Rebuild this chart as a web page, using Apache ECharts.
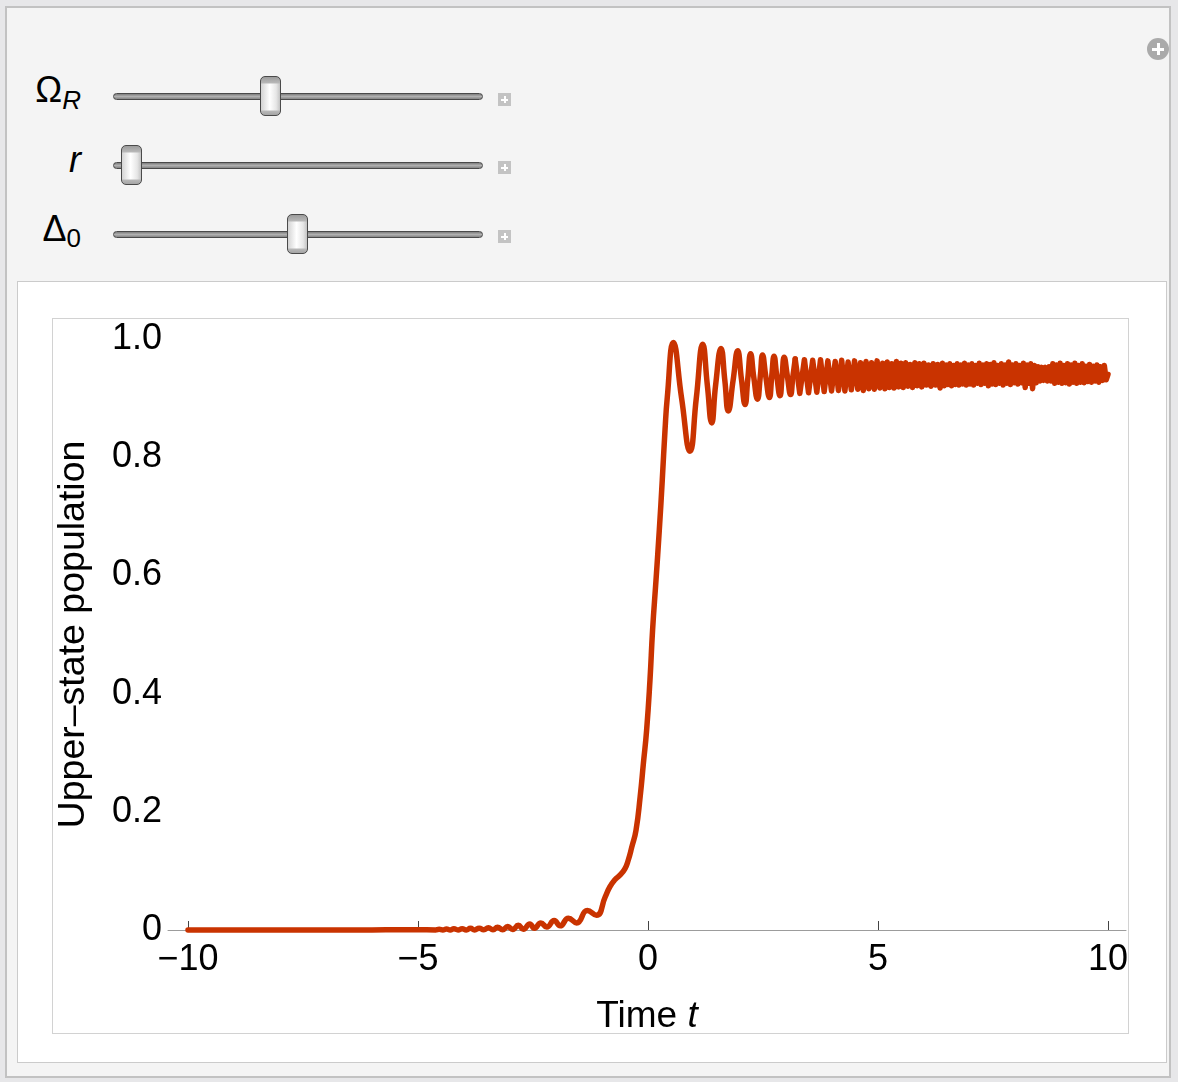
<!DOCTYPE html>
<html>
<head>
<meta charset="utf-8">
<script src="https://cdn.jsdelivr.net/npm/echarts@6/dist/echarts.min.js"></script>
<style>
  html, body { margin:0; padding:0; width:1178px; height:1082px; overflow:hidden; background:#e7e7e9; font-family:"Liberation Sans", Arial, sans-serif; }
  #panel { position:absolute; left:5px; top:6px; width:1166px; height:1072px; background:#f4f4f4; border:2px solid #c2c2c2; box-sizing:border-box; }
  #inner { position:absolute; left:17px; top:281px; width:1150px; height:782px; background:#fff; border:1px solid #cbcbcb; box-sizing:border-box; }
  #frame { position:absolute; left:52px; top:318px; width:1077px; height:716px; border:1px solid #d2d2d2; box-sizing:border-box; }
  .lab { position:absolute; left:0; width:81px; text-align:right; font-size:36px; line-height:36px; color:#000; white-space:nowrap; }
  .sub { font-size:26px; position:relative; }
  .track { position:absolute; left:113px; width:370px; height:7px; border-radius:3.5px; box-sizing:border-box; border:1px solid #4a4a4a; background:linear-gradient(#7e7e7e, #b0b0b0 50%, #848484); }
  .thumb { position:absolute; width:21px; height:40px; border-radius:5px; box-sizing:border-box; border:1.5px solid #4a4a4a;
           background:linear-gradient(to bottom, #9c9c9c 0px, #b8b8b8 6px, rgba(0,0,0,0) 7px, rgba(0,0,0,0) 33px, #b8b8b8 34px, #9c9c9c 40px),
                      linear-gradient(to right, #d4d4d4, #ffffff 45%, #e6e6e6 80%, #c4c4c4); }
  .plus { position:absolute; left:498px; width:13px; height:13px; background:#c3c3c3; }
  .plus:before { content:""; position:absolute; left:3px; top:5.5px; width:7px; height:2px; background:#fff; }
  .plus:after { content:""; position:absolute; left:5.5px; top:3px; width:2px; height:7px; background:#fff; }
  #circ { position:absolute; left:1147px; top:38px; width:22px; height:22px; border-radius:11px; background:#aaaaaa; }
  #circ:before { content:""; position:absolute; left:5px; top:9.5px; width:12px; height:3px; background:#fff; }
  #circ:after { content:""; position:absolute; left:9.5px; top:5px; width:3px; height:12px; background:#fff; }
  #chart { position:absolute; left:0; top:0; width:1178px; height:1082px; }
</style>
</head>
<body>
<div id="panel"></div>
<div id="circ"></div>

<div class="lab" style="top:72px;">Ω<span class="sub" style="font-style:italic; top:7px;">R</span></div>
<div class="lab" style="top:142px; font-style:italic;">r</div>
<div class="lab" style="top:211px;">Δ<span class="sub" style="top:6px;">0</span></div>

<div class="track" style="top:93px;"></div>
<div class="track" style="top:162px;"></div>
<div class="track" style="top:231px;"></div>
<div class="thumb" style="left:260px; top:76px;"></div>
<div class="thumb" style="left:121px; top:145px;"></div>
<div class="thumb" style="left:287px; top:214px;"></div>
<div class="plus" style="top:93px;"></div>
<div class="plus" style="top:161px;"></div>
<div class="plus" style="top:230px;"></div>

<div id="inner"></div>
<div id="frame"></div>
<div id="chart"></div>

<script>
// ---- Data ----
// Axis ticks
const xTicks = [-10, -5, 0, 5, 10];
const yTicks = [0, 0.2, 0.4, 0.6, 0.8, 1.0];

// Smooth part of the curve: time t and upper-state population
const tSmooth = [
  -10, -9, -8, -7, -6, -5.4, -5.0, -4.62, -4.54, -4.46, -4.38, -4.30, -4.22, -4.13, -4.04,
  -3.95, -3.86, -3.77, -3.67, -3.57, -3.47, -3.37, -3.27, -3.16, -3.05, -2.94, -2.82, -2.71,
  -2.57, -2.47, -2.33, -2.20, -2.04, -1.91, -1.73, -1.55, -1.32, -1.12,
  -0.93, -0.83, -0.72, -0.61, -0.50, -0.43, -0.35, -0.26, -0.17, -0.10, -0.03, 0.043, 0.10,
  0.174, 0.246, 0.31, 0.37, 0.42, 0.55, 0.73, 0.913, 1.05,
  1.19, 1.29, 1.385, 1.47, 1.587, 1.67, 1.746, 1.85, 1.95, 2.03, 2.11,
  2.17, 2.23, 2.30, 2.38, 2.44, 2.49, 2.56, 2.64, 2.69, 2.74, 2.80, 2.87, 2.915, 2.96,
  3.03, 3.10, 3.15, 3.20
];
const pSmooth = [
  0, 0, 0, 0, 0.0002, 0.0003, 0.0005, 0.0002, 0.0012, 0.0002, 0.0015, 0.0002, 0.002, 0.0002, 0.0022,
  0.0002, 0.0028, 0.0002, 0.003, 0.0003, 0.0038, 0.0004, 0.0048, 0.0005, 0.006, 0.0008, 0.008, 0.0012,
  0.010, 0.003, 0.012, 0.005, 0.016, 0.007, 0.020, 0.012, 0.033, 0.025,
  0.056, 0.073, 0.085, 0.093, 0.104, 0.118, 0.141, 0.169, 0.226, 0.282, 0.338, 0.423, 0.508,
  0.592, 0.677, 0.761, 0.846, 0.902, 0.994, 0.900, 0.810, 0.900,
  0.991, 0.922, 0.858, 0.922, 0.984, 0.930, 0.878, 0.930, 0.980, 0.933, 0.889,
  0.933, 0.975, 0.935, 0.898, 0.936, 0.973, 0.937, 0.901, 0.937, 0.971, 0.937, 0.904, 0.937, 0.969,
  0.937, 0.906, 0.937, 0.966
];

// Dense, fast-oscillating tail of the curve
const tDense = [
  3.20, 3.30, 3.40, 3.49, 3.58, 3.67, 3.75, 3.83, 3.91, 3.99, 4.07, 4.14, 4.21, 4.28, 4.35, 4.42,
  4.49, 4.56, 4.62, 4.68, 4.74, 4.80, 4.86, 4.92, 4.98, 5.04, 5.10, 5.15, 5.20, 5.25, 5.30, 5.35,
  5.40, 5.45, 5.50, 5.55, 5.60, 5.65, 5.70, 5.75, 5.80, 5.85, 5.90, 5.95, 6.00, 6.05, 6.10, 6.15,
  6.20, 6.25, 6.30, 6.35, 6.40, 6.44, 6.48, 6.52, 6.56, 6.60, 6.64, 6.68, 6.72, 6.76, 6.80, 6.84,
  6.88, 6.92, 6.96, 7.00, 7.04, 7.08, 7.12, 7.16, 7.20, 7.24, 7.28, 7.32, 7.36, 7.40, 7.44, 7.48,
  7.52, 7.56, 7.60, 7.64, 7.68, 7.72, 7.76, 7.80, 7.84, 7.88, 7.92, 7.96, 8.00, 8.04, 8.08, 8.12,
  8.16, 8.20, 8.24, 8.28, 8.32, 8.36, 8.40, 8.44, 8.48, 8.52, 8.56, 8.60, 8.64, 8.68, 8.72, 8.76,
  8.80, 8.84, 8.88, 8.92, 8.96, 9.00, 9.04, 9.08, 9.12, 9.16, 9.20, 9.24, 9.28, 9.32, 9.36, 9.40,
  9.44, 9.48, 9.52, 9.56, 9.60, 9.64, 9.68, 9.72, 9.76, 9.80, 9.84, 9.88, 9.92, 9.96, 10.00
];
const pDense = [
  0.966, 0.908, 0.965, 0.909, 0.964, 0.910, 0.965, 0.911, 0.963, 0.912, 0.962, 0.913, 0.964, 0.912, 0.961, 0.914,
  0.963, 0.915, 0.960, 0.913, 0.962, 0.916, 0.960, 0.915, 0.963, 0.917, 0.959, 0.916, 0.961, 0.918, 0.958, 0.917,
  0.962, 0.919, 0.959, 0.918, 0.960, 0.920, 0.957, 0.918, 0.960, 0.921, 0.958, 0.919, 0.959, 0.922, 0.956, 0.920,
  0.958, 0.922, 0.957, 0.917, 0.959, 0.921, 0.956, 0.923, 0.958, 0.921, 0.955, 0.923, 0.958, 0.922, 0.956, 0.924,
  0.959, 0.922, 0.956, 0.924, 0.958, 0.922, 0.955, 0.925, 0.959, 0.923, 0.956, 0.925, 0.958, 0.921, 0.957, 0.924,
  0.960, 0.923, 0.955, 0.925, 0.958, 0.922, 0.956, 0.925, 0.961, 0.923, 0.956, 0.926, 0.958, 0.924, 0.955, 0.926,
  0.959, 0.918, 0.956, 0.925, 0.958, 0.916, 0.955, 0.926, 0.953, 0.929, 0.952, 0.930, 0.952, 0.929, 0.953, 0.929,
  0.958, 0.925, 0.956, 0.927, 0.959, 0.925, 0.955, 0.926, 0.958, 0.924, 0.956, 0.927, 0.959, 0.925, 0.955, 0.927,
  0.958, 0.926, 0.954, 0.928, 0.957, 0.927, 0.954, 0.929, 0.956, 0.927, 0.953, 0.930, 0.955, 0.931, 0.940
];

// ---- Chart ----
const CURVE = '#c93300';
const FONT = '"Liberation Sans", Arial, sans-serif';
const zip = (a, b) => a.map((v, i) => [v, b[i]]);
const fmtX = v => (v < 0 ? '\u2212' + Math.abs(v) : String(v));
const fmtY = v => (v === 0 ? '0' : v.toFixed(1));

const chart = echarts.init(document.getElementById('chart'), null, { renderer: 'canvas' });
chart.setOption({
  animation: false,
  backgroundColor: 'transparent',
  grid: { left: 168, top: 339, width: 958, height: 591, containLabel: false },
  xAxis: {
    type: 'value', min: -10.4348, max: 10.3913,
    axisLine: { show: true, lineStyle: { color: '#9c9c9c', width: 1 } },
    axisTick: { show: true, customValues: xTicks, inside: true, length: 9, lineStyle: { color: '#444', width: 1 } },
    minorTick: { show: false },
    splitLine: { show: false },
    axisLabel: { customValues: xTicks, formatter: fmtX, fontSize: 36, color: '#000', fontFamily: FONT, margin: 12 },
    name: 'Time {i|t}', nameLocation: 'middle', nameGap: 68,
    nameTextStyle: { fontSize: 37, color: '#000', fontFamily: FONT,
      rich: { i: { fontSize: 37, fontStyle: 'italic', color: '#000', fontFamily: FONT } } }
  },
  yAxis: {
    type: 'value', min: 0, max: 1,
    axisLine: { show: false }, axisTick: { show: false }, splitLine: { show: false },
    axisLabel: { customValues: yTicks, formatter: fmtY, fontSize: 36, color: '#000', fontFamily: FONT, margin: 6 },
    name: 'Upper\u2013state population', nameLocation: 'middle', nameGap: 75,
    nameTextStyle: { fontSize: 37.5, color: '#000', fontFamily: FONT }
  },
  series: [
    { type: 'line', data: zip(tSmooth, pSmooth), smooth: 0.5, showSymbol: false, clip: false,
      lineStyle: { color: CURVE, width: 5.5, cap: 'round', join: 'round' }, z: 3 },
    { type: 'line', data: zip(tDense, pDense), smooth: false, showSymbol: false, clip: false,
      lineStyle: { color: CURVE, width: 5.5, cap: 'round', join: 'round' }, z: 3 }
  ]
});
</script>
</body>
</html>
